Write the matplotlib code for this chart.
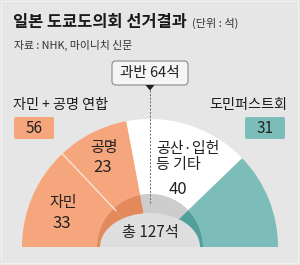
import numpy as np
import matplotlib.pyplot as plt
from matplotlib.patches import Wedge, Ellipse, FancyBboxPatch, Polygon, Rectangle

plt.rcParams['font.family'] = ['Noto Sans CJK KR', 'DejaVu Sans']

# data
parties = ['자민', '공명', '공산·입헌\n등 기타', '도민퍼스트회']
seats = [33, 23, 40, 31]
total = sum(seats)
majority = 64
coalition = seats[0] + seats[1]

outer_colors = ['#f6a67c', '#f6a67c', '#ffffff', '#7dbdb9']
rim_colors = ['#e3895b', '#e3895b', '#cdcdcd', '#52a09c']
bg = '#e6e6e6'

W, H = 300, 265
fig = plt.figure(figsize=(3.0, 2.65), dpi=100)
fig.patch.set_facecolor(bg)
ax = fig.add_axes([0, 0, 1, 1])
ax.set_xlim(0, W)
ax.set_ylim(H, 0)  # pixel-like coords, y goes down
ax.axis('off')

cx, cy = 150, 247
R_out, R_rim = 128, 53

# half donut, visual angle phi -> data angle -phi (y inverted)
start = 180.0
bounds = []
for v, oc, rc in zip(seats, outer_colors, rim_colors):
    sweep = v / total * 180.0
    p2, p1 = start, start - sweep
    ax.add_patch(Wedge((cx, cy), R_out, -p2, -p1, width=R_out - R_rim, facecolor=oc, edgecolor='none'))
    ax.add_patch(Wedge((cx, cy), R_rim, -p2, -p1, facecolor=rc, edgecolor='none'))
    bounds.append(p1)
    start = p1

# inner face (perspective hole)
hole = Ellipse((cx, cy), 100, 68, facecolor='#dedede', edgecolor='none')
ax.add_patch(hole)
clip = Rectangle((0, 0), W, cy, transform=ax.transData)
hole.set_clip_path(clip)

# thin light line between 자민 and 공명
a = np.deg2rad(bounds[0])
ax.plot([cx + 50 * np.cos(a), cx + R_out * np.cos(a)],
        [cy - 50 * np.sin(a), cy - R_out * np.sin(a)], color='#fbe3d4', lw=1.0)

# majority marker
ax.plot([cx, cx], [90, 205], color='#555555', lw=0.6, ls=(0, (2.5, 1.8)))
ax.add_patch(FancyBboxPatch((112, 61), 76, 24, boxstyle='round,pad=0,rounding_size=4',
                            facecolor='#f5f5f5', edgecolor='#8a8a8a', lw=0.8))
ax.add_patch(Polygon([(145.5, 85), (154.5, 85), (150, 90.5)], closed=True, facecolor='#222222', edgecolor='none'))
ax.text(cx, 73.5, f'과반 {majority}석', ha='center', va='center', fontsize=10.5, color='#222222')

# title
ax.text(13, 22, '일본 도쿄도의회 선거결과', ha='left', va='center', fontsize=11.8,
        fontweight='bold', color='#1a1a1a')
ax.text(192, 23, '(단위 : 석)', ha='left', va='center', fontsize=8, color='#333333')
ax.text(14, 45, '자료 : NHK, 마이니치 신문', ha='left', va='center', fontsize=7.8, color='#333333')

# side labels
ax.text(13, 105, '자민 + 공명 연합', ha='left', va='center', fontsize=10.2,
        fontweight='medium', color='#1a1a1a')
ax.add_patch(FancyBboxPatch((14, 117), 40, 22, boxstyle='round,pad=0,rounding_size=2',
                            facecolor=outer_colors[0], edgecolor='none'))
ax.text(34, 128.5, str(coalition), ha='center', va='center', fontsize=11, color='#222222')

ax.text(287, 105, parties[3], ha='right', va='center', fontsize=10.2,
        fontweight='medium', color='#1a1a1a')
ax.add_patch(FancyBboxPatch((245, 117), 40, 22, boxstyle='round,pad=0,rounding_size=2',
                            facecolor=outer_colors[3], edgecolor='none'))
ax.text(265, 128.5, str(seats[3]), ha='center', va='center', fontsize=11, color='#222222')

# segment labels
lab = dict(fontsize=10.8, color='#222222')
num = dict(fontsize=12, color='#222222')
ax.text(104, 148, parties[1], ha='center', va='center', **lab)
ax.text(103, 168, str(seats[1]), ha='center', va='center', **num)
ax.text(63, 203, parties[0], ha='center', va='center', **lab)
ax.text(62, 224, str(seats[0]), ha='center', va='center', **num)
ax.text(156, 157, parties[2], ha='left', va='center', linespacing=1.1, **lab)
ax.text(178, 189, str(seats[2]), ha='center', va='center', **num)
ax.text(cx, 233, f'총 {total}석', ha='center', va='center', fontsize=11, color='#222222')

# light frame
ax.add_patch(Rectangle((1, 1), W - 3, H - 3, facecolor='none', edgecolor='#f2f2f2', lw=0.8))

fig.savefig('out.png', dpi=100, facecolor=bg)
